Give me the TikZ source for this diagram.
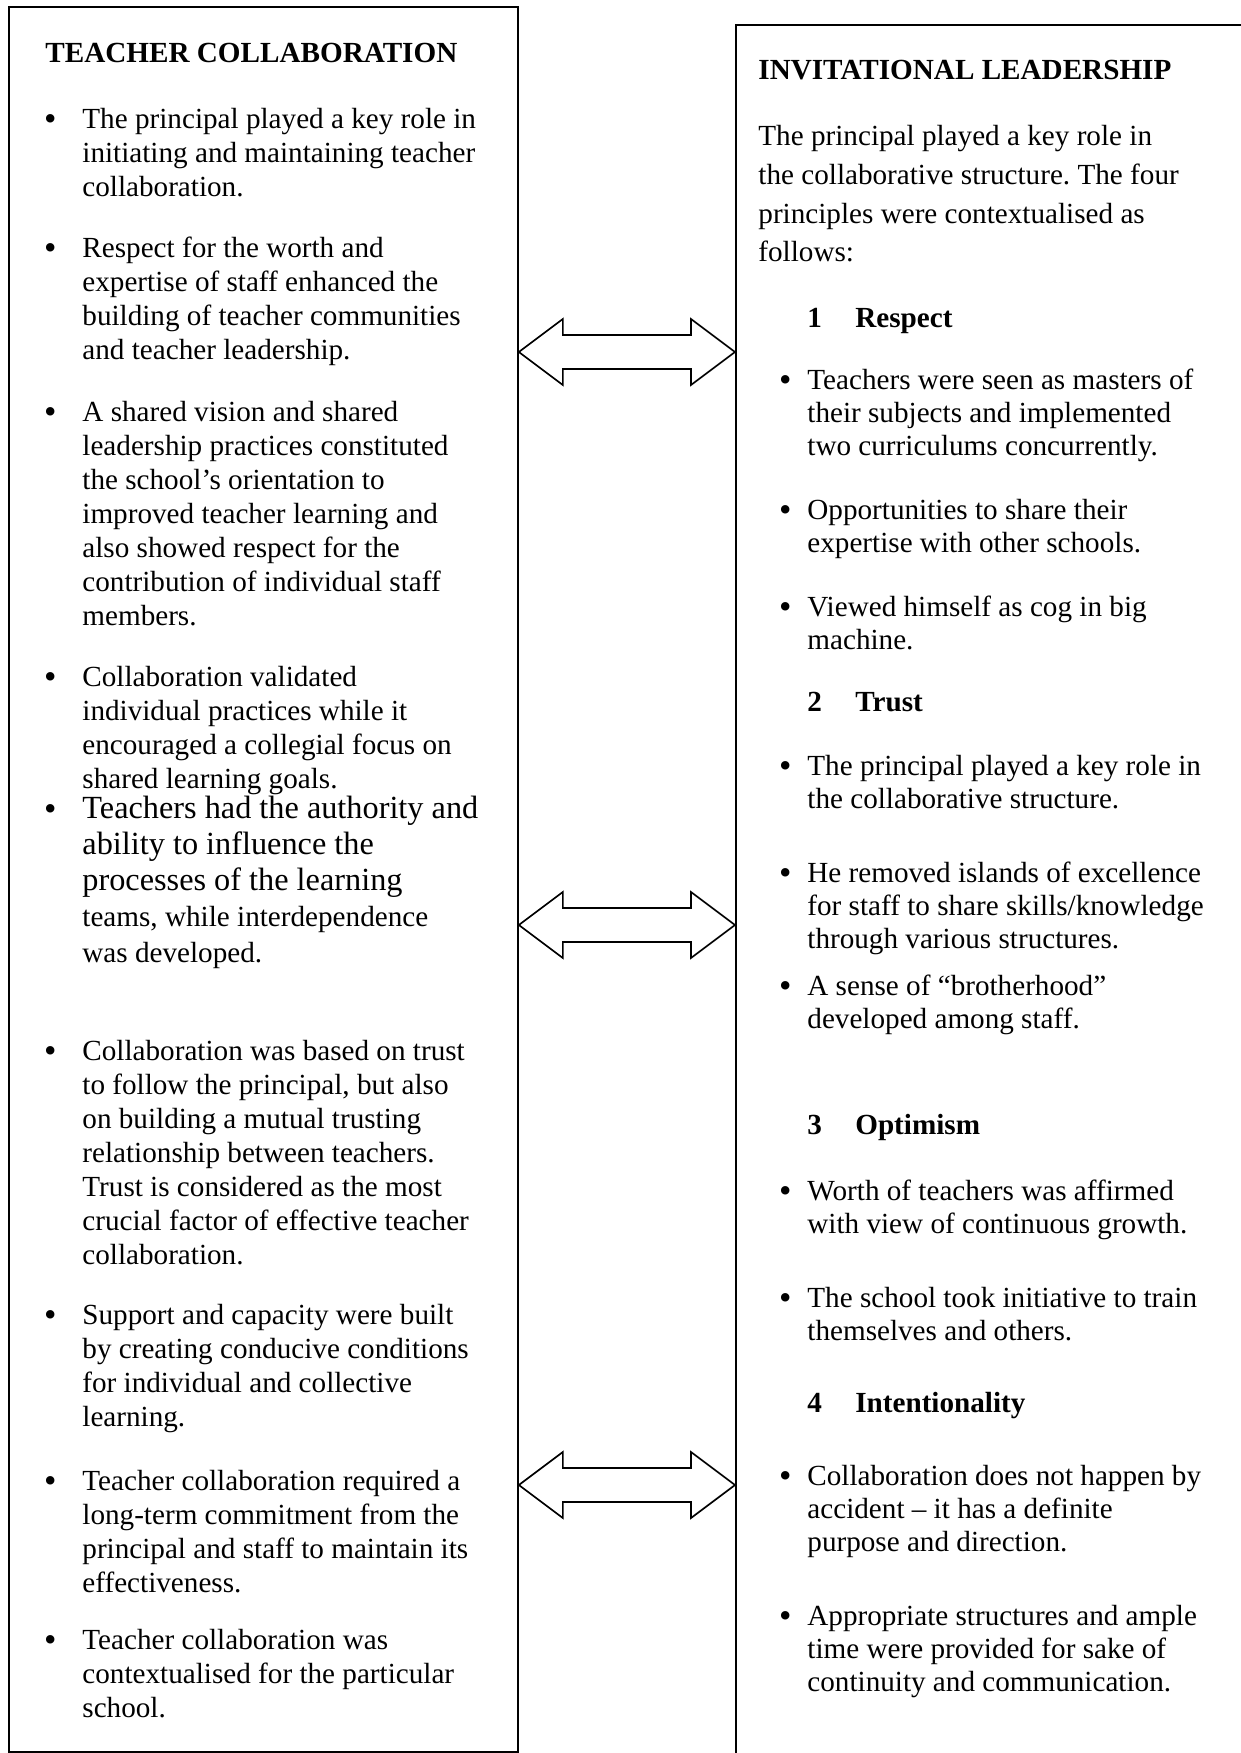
\documentclass[tikz,border=0pt]{standalone}
\usepackage{fontspec}
\setmainfont{Liberation Serif}
\usetikzlibrary{calc}
\frenchspacing

\begin{document}
\begin{tikzpicture}[x=0.48pt, y=-0.48pt,
    panel/.style={draw, line width=0.9pt, anchor=north west, inner sep=0pt},
    heading/.style={anchor=base west, inner sep=0pt, font=\fontsize{14}{16}\selectfont\bfseries},
    link/.style={draw, line width=0.8pt, line join=miter}]
\clip (0,0) rectangle (1241,1753);
\fill[white] (0,0) rectangle (1241,1753);

\node[panel, minimum width=244.3pt, minimum height=837.6pt] (tc) at (8,6) {};
\node[panel, minimum width=252pt, minimum height=838pt] (il) at (735,24) {};

\node[heading] (tctitle) at (45,62) {TEACHER COLLABORATION};
\node[heading] (iltitle) at (758,79) {INVITATIONAL LEADERSHIP};

% left column
\begin{scope}[every node/.style={anchor=north west, align=left, inner sep=0pt, font=\fontsize{14}{16.3}\selectfont}]
    \node (t1) at (82,108) {\llap{\raisebox{-0.8pt}{\fontsize{17}{17}\selectfont\textbullet}\hspace{12.4pt}}The principal played a key role in\\ initiating and maintaining teacher\\ collaboration.};
    \node (t2) at (82,237) {\llap{\raisebox{-0.8pt}{\fontsize{17}{17}\selectfont\textbullet}\hspace{12.4pt}}Respect for the worth and\\ expertise of staff enhanced the\\ building of teacher communities\\ and teacher leadership.};
    \node (t3) at (82,401) {\llap{\raisebox{-0.8pt}{\fontsize{17}{17}\selectfont\textbullet}\hspace{12.4pt}}A shared vision and shared\\ leadership practices constituted\\ the school’s orientation to\\ improved teacher learning and\\ also showed respect for the\\ contribution of individual staff\\ members.};
    \node (t4) at (82,666) {\llap{\raisebox{-0.8pt}{\fontsize{17}{17}\selectfont\textbullet}\hspace{12.4pt}}Collaboration validated\\ individual practices while it\\ encouraged a collegial focus on\\ shared learning goals.};
    \node[font=\fontsize{14}{17.2}\selectfont] (t5) at (82,796) {\llap{\raisebox{-0.8pt}{\fontsize{17}{17}\selectfont\textbullet}\hspace{12.4pt}}\fontsize{15.5}{17.2}\selectfont Teachers had the authority and\\ \fontsize{15.5}{17.2}\selectfont ability to influence the\\ \fontsize{15.5}{17.2}\selectfont processes of the learning\\ teams, while interdependence\\ was developed.};
    \node (t6) at (82,1040) {\llap{\raisebox{-0.8pt}{\fontsize{17}{17}\selectfont\textbullet}\hspace{12.4pt}}Collaboration was based on trust\\ to follow the principal, but also\\ on building a mutual trusting\\ relationship between teachers.\\ Trust is considered as the most\\ crucial factor of effective teacher\\ collaboration.};
    \node (t7) at (82,1304) {\llap{\raisebox{-0.8pt}{\fontsize{17}{17}\selectfont\textbullet}\hspace{12.4pt}}Support and capacity were built\\ by creating conducive conditions\\ for individual and collective\\ learning.};
    \node (t8) at (82,1470) {\llap{\raisebox{-0.8pt}{\fontsize{17}{17}\selectfont\textbullet}\hspace{12.4pt}}Teacher collaboration required a\\ long-term commitment from the\\ principal and staff to maintain its\\ effectiveness.};
    \node (t9) at (82,1629) {\llap{\raisebox{-0.8pt}{\fontsize{17}{17}\selectfont\textbullet}\hspace{12.4pt}}Teacher collaboration was\\ contextualised for the particular\\ school.};
\end{scope}

% right column
\begin{scope}[every node/.style={anchor=north west, align=left, inner sep=0pt, font=\fontsize{14}{15.8}\selectfont}]
    \node[font=\fontsize{14}{18.6}\selectfont] (intro) at (758,125) {The principal played a key role in\\ the collaborative structure. The four\\ principles were contextualised as\\ follows:};
    \node[heading] (h1) at (807,327) {\makebox[23pt][l]{1}Respect};
    \node (r1) at (807,369) {\llap{\raisebox{-0.8pt}{\fontsize{17}{17}\selectfont\textbullet}\hspace{7.6pt}}Teachers were seen as masters of\\ their subjects and implemented\\ two curriculums concurrently.};
    \node (r2) at (807,499) {\llap{\raisebox{-0.8pt}{\fontsize{17}{17}\selectfont\textbullet}\hspace{7.6pt}}Opportunities to share their\\ expertise with other schools.};
    \node (r3) at (807,596) {\llap{\raisebox{-0.8pt}{\fontsize{17}{17}\selectfont\textbullet}\hspace{7.6pt}}Viewed himself as cog in big\\ machine.};
    \node[heading] (h2) at (807,711) {\makebox[23pt][l]{2}Trust};
    \node (r4) at (807,755) {\llap{\raisebox{-0.8pt}{\fontsize{17}{17}\selectfont\textbullet}\hspace{7.6pt}}The principal played a key role in\\ the collaborative structure.};
    \node (r5) at (807,862) {\llap{\raisebox{-0.8pt}{\fontsize{17}{17}\selectfont\textbullet}\hspace{7.6pt}}He removed islands of excellence\\ for staff to share skills/knowledge\\ through various structures.};
    \node (r6) at (807,975) {\llap{\raisebox{-0.8pt}{\fontsize{17}{17}\selectfont\textbullet}\hspace{7.6pt}}A sense of “brotherhood”\\ developed among staff.};
    \node[heading] (h3) at (807,1134) {\makebox[23pt][l]{3}Optimism};
    \node (r7) at (807,1180) {\llap{\raisebox{-0.8pt}{\fontsize{17}{17}\selectfont\textbullet}\hspace{7.6pt}}Worth of teachers was affirmed\\ with view of continuous growth.};
    \node (r8) at (807,1287) {\llap{\raisebox{-0.8pt}{\fontsize{17}{17}\selectfont\textbullet}\hspace{7.6pt}}The school took initiative to train\\ themselves and others.};
    \node[heading] (h4) at (807,1412) {\makebox[23pt][l]{4}Intentionality};
    \node (r9) at (807,1465) {\llap{\raisebox{-0.8pt}{\fontsize{17}{17}\selectfont\textbullet}\hspace{7.6pt}}Collaboration does not happen by\\ accident – it has a definite\\ purpose and direction.};
    \node (r10) at (807,1605) {\llap{\raisebox{-0.8pt}{\fontsize{17}{17}\selectfont\textbullet}\hspace{7.6pt}}Appropriate structures and ample\\ time were provided for sake of\\ continuity and communication.};
\end{scope}

% two-way arrows between the panels
\foreach \y in {352,925,1485}
    \draw[link] (tc.east |- 0,\y) -- ++(44,-33) -- ++(0,16)
        -- ($(il.west |- 0,\y)+(-44,-17)$) -- ++(0,-16) -- (il.west |- 0,\y)
        -- ++(-44,33) -- ++(0,-16) -- ($(tc.east |- 0,\y)+(44,17)$) -- ++(0,16) -- cycle;
\end{tikzpicture}
\end{document}
